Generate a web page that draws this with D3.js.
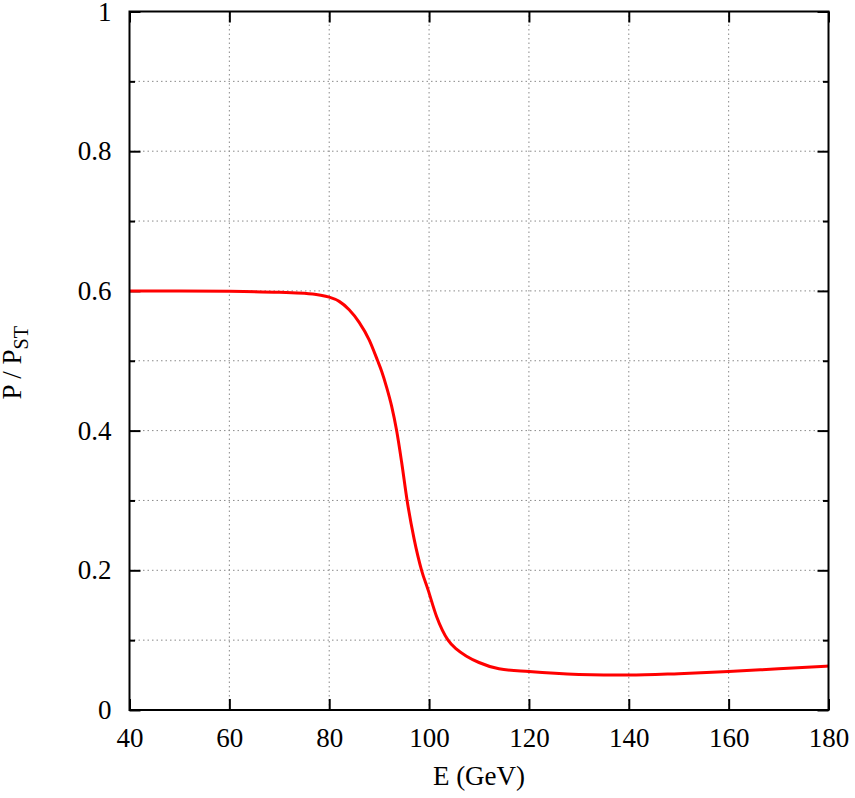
<!DOCTYPE html>
<html>
<head>
<meta charset="utf-8">
<script src="https://cdn.jsdelivr.net/npm/d3@7"></script>
</head>
<body style="margin:0; background:#fff">
<svg id="chart"></svg>
<script>
// Data
const energy = [40, 50, 60, 70, 75, 78, 80, 82, 84, 86, 88, 89.7, 90.5, 91.5, 92.5, 93.5, 94.5, 95.6, 97, 98.5,
                99.8, 101.5, 103.8, 105.5, 107.5, 110, 114, 120, 130, 140, 150, 160, 170, 180];
const ratio  = [0.600, 0.600, 0.5995, 0.598, 0.5965, 0.594, 0.591, 0.585, 0.573, 0.555, 0.530, 0.500,
                0.485, 0.462, 0.435, 0.400, 0.355, 0.300, 0.245, 0.200, 0.172, 0.134, 0.100, 0.087,
                0.077, 0.068, 0.059, 0.055, 0.051, 0.050, 0.052, 0.055, 0.059, 0.063];
const xTicks = [40, 60, 80, 100, 120, 140, 160, 180];
const yTicks = [0, 0.2, 0.4, 0.6, 0.8, 1];
const yMinor = [0.1, 0.3, 0.5, 0.7, 0.9];

const width = 855, height = 798;
const margin = {left: 129.5, right: 26.5, top: 11.5, bottom: 88};
const serif = "Liberation Serif";

const svg = d3.select("#chart")
    .attr("width", width)
    .attr("height", height);

const x = d3.scaleLinear().domain([40, 180]).range([margin.left, width - margin.right]);
const y = d3.scaleLinear().domain([0, 1]).range([height - margin.bottom, margin.top]);

// grid
const grid = svg.append("g").attr("class", "grid")
    .attr("stroke", "#8a8a8a").attr("stroke-width", 1).attr("stroke-dasharray", "1.5,3");
grid.selectAll(".gx")
    .data(xTicks.slice(1, -1))
    .join("line")
    .attr("x1", d => x(d)).attr("x2", d => x(d))
    .attr("y1", y(0)).attr("y2", y(1));
grid.selectAll(".gy")
    .data(yTicks.slice(1, -1).concat(yMinor))
    .join("line")
    .attr("y1", d => y(d)).attr("y2", d => y(d))
    .attr("x1", x(40)).attr("x2", x(180));

// axes (ticks inward, mirrored like gnuplot)
const axBottom = svg.append("g").attr("transform", `translate(0,${y(0)})`)
    .call(d3.axisBottom(x).tickValues(xTicks).tickSizeInner(-11).tickSizeOuter(0).tickPadding(18));
const axTop = svg.append("g").attr("transform", `translate(0,${y(1)})`)
    .call(d3.axisTop(x).tickValues(xTicks).tickSizeInner(-11).tickSizeOuter(0).tickFormat(""));
const axLeft = svg.append("g").attr("transform", `translate(${x(40)},0)`)
    .call(d3.axisLeft(y).tickValues(yTicks).tickSizeInner(-11).tickSizeOuter(0).tickPadding(18)
        .tickFormat(d => d === 0 || d === 1 ? d : d3.format(".1f")(d)));
const axRight = svg.append("g").attr("transform", `translate(${x(180)},0)`)
    .call(d3.axisRight(y).tickValues(yTicks).tickSizeInner(-11).tickSizeOuter(0).tickFormat(""));
const leftMinor = svg.append("g").attr("transform", `translate(${x(40)},0)`)
    .call(d3.axisLeft(y).tickValues(yMinor).tickSizeInner(-5.5).tickSizeOuter(0).tickFormat(""));
const rightMinor = svg.append("g").attr("transform", `translate(${x(180)},0)`)
    .call(d3.axisRight(y).tickValues(yMinor).tickSizeInner(-5.5).tickSizeOuter(0).tickFormat(""));

[axBottom, axTop, axLeft, axRight, leftMinor, rightMinor].forEach(g => {
    g.select(".domain").remove();
    g.selectAll(".tick line").attr("stroke", "#000").attr("stroke-width", 2);
    g.selectAll("text")
        .style("font-family", serif)
        .style("font-size", "27px")
        .attr("fill", "#000");
});
axBottom.selectAll("text").attr("dy", "0.71em");

// curve
const pts = energy.map((e, i) => [e, ratio[i]]);
svg.append("path")
    .datum(pts)
    .attr("fill", "none")
    .attr("stroke", "#ff0000")
    .attr("stroke-width", 3)
    .attr("d", d3.line().x(d => x(d[0])).y(d => y(d[1])).curve(d3.curveMonotoneX));

// frame
svg.append("rect")
    .attr("x", x(40)).attr("y", y(1))
    .attr("width", x(180) - x(40)).attr("height", y(0) - y(1))
    .attr("fill", "none").attr("stroke", "#000").attr("stroke-width", 2);

// labels
svg.append("text")
    .attr("x", (x(40) + x(180)) / 2).attr("y", 785)
    .attr("text-anchor", "middle")
    .style("font-family", serif)
    .style("font-size", "27px")
    .text("E (GeV)");

const ylab = svg.append("text")
    .attr("transform", `translate(21,${(y(0) + y(1)) / 2 + 2}) rotate(-90)`)
    .attr("text-anchor", "middle")
    .style("font-family", serif)
    .style("font-size", "27px");
ylab.append("tspan").text("P / P");
ylab.append("tspan").attr("dy", 7).style("font-size", "20px").text("ST");
</script>
</body>
</html>
